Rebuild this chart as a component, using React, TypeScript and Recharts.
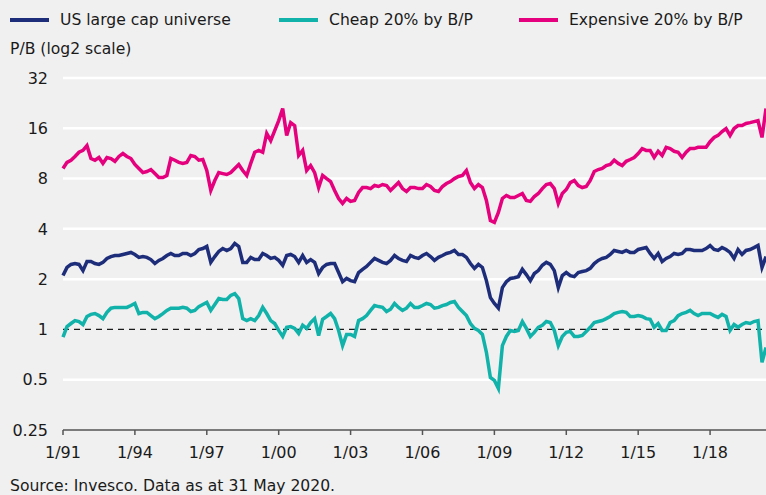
import React from 'react';
import { LineChart, Line, XAxis, YAxis, CartesianGrid, ReferenceLine } from 'recharts';

// P/B readings, every second month from 1/91 to 5/20
const universePB = [
  2.10, 2.35, 2.45, 2.48, 2.45, 2.25, 2.55, 2.55, 2.48, 2.45,
  2.52, 2.66, 2.73, 2.77, 2.77, 2.81, 2.85, 2.89, 2.81, 2.70,
  2.73, 2.70, 2.62, 2.48, 2.59, 2.66, 2.77, 2.85, 2.77, 2.77,
  2.85, 2.85, 2.77, 2.85, 3.01, 3.05, 3.14, 2.52, 2.73, 2.93,
  3.05, 2.97, 3.05, 3.27, 3.14, 2.52, 2.52, 2.70, 2.62, 2.62,
  2.85, 2.77, 2.66, 2.70, 2.59, 2.42, 2.77, 2.81, 2.73, 2.52,
  2.77, 2.52, 2.62, 2.52, 2.16, 2.35, 2.45, 2.48, 2.48, 2.19,
  1.93, 2.02, 1.96, 1.93, 2.19, 2.29, 2.38, 2.52, 2.66, 2.59,
  2.52, 2.48, 2.59, 2.77, 2.66, 2.59, 2.55, 2.77, 2.70, 2.66,
  2.77, 2.85, 2.73, 2.59, 2.70, 2.77, 2.85, 2.89, 2.97, 2.81,
  2.81, 2.70, 2.48, 2.32, 2.45, 2.35, 1.96, 1.55, 1.43, 1.34,
  1.78, 1.93, 2.02, 2.04, 2.07, 2.29, 2.13, 1.96, 2.16, 2.25,
  2.42, 2.52, 2.45, 2.25, 1.78, 2.10, 2.19, 2.10, 2.07, 2.19,
  2.22, 2.25, 2.32, 2.48, 2.59, 2.66, 2.70, 2.81, 2.97, 2.93,
  2.89, 2.97, 2.89, 2.89, 3.01, 3.05, 3.09, 2.85, 2.66, 2.85,
  2.55, 2.66, 2.73, 2.85, 2.81, 2.85, 3.01, 3.01, 2.97, 2.97,
  2.97, 3.05, 3.18, 3.01, 2.97, 3.09, 3.01, 2.89, 2.66, 3.01,
  2.81, 2.97, 3.01, 3.09, 3.18, 2.35, 2.73,
];

const cheapPB = [
  0.90, 1.04, 1.085, 1.13, 1.115, 1.07, 1.195, 1.23, 1.245, 1.21,
  1.16, 1.265, 1.34, 1.355, 1.355, 1.355, 1.355, 1.39, 1.43, 1.245,
  1.265, 1.265, 1.21, 1.16, 1.195, 1.245, 1.30, 1.34, 1.34, 1.34,
  1.355, 1.34, 1.28, 1.30, 1.37, 1.41, 1.45, 1.30, 1.41, 1.53,
  1.51, 1.51, 1.60, 1.64, 1.53, 1.16, 1.13, 1.16, 1.13, 1.21,
  1.355, 1.245, 1.13, 1.085, 0.986, 0.908, 1.03, 1.04, 1.014, 0.946,
  1.06, 1.014, 1.10, 1.16, 0.92, 1.15, 1.195, 1.245, 1.16, 0.986,
  0.80, 0.933, 0.933, 0.908, 1.13, 1.16, 1.21, 1.30, 1.39, 1.37,
  1.355, 1.28, 1.32, 1.43, 1.355, 1.30, 1.34, 1.43, 1.355, 1.355,
  1.39, 1.43, 1.41, 1.34, 1.355, 1.39, 1.41, 1.45, 1.47, 1.355,
  1.28, 1.21, 1.085, 1.014, 0.986, 0.933, 0.73, 0.516, 0.495, 0.443,
  0.80, 0.908, 0.986, 0.973, 0.986, 1.115, 1.014, 0.908, 0.96, 1.03,
  1.06, 1.115, 1.10, 0.986, 0.80, 0.908, 0.96, 0.973, 0.908, 0.908,
  0.92, 0.973, 1.03, 1.10, 1.115, 1.13, 1.16, 1.195, 1.245, 1.265,
  1.28, 1.265, 1.195, 1.195, 1.21, 1.195, 1.16, 1.15, 1.03, 1.085,
  0.986, 0.986, 1.10, 1.13, 1.21, 1.245, 1.265, 1.30, 1.245, 1.21,
  1.245, 1.245, 1.245, 1.21, 1.18, 1.23, 1.195, 0.986, 1.07, 1.03,
  1.07, 1.10, 1.085, 1.115, 1.13, 0.635, 0.78,
];

const expensivePB = [
  9.19, 10.0, 10.3, 10.85, 11.5, 11.8, 12.6, 10.55, 10.3, 10.7,
  9.86, 10.7, 10.55, 10.15, 10.85, 11.3, 10.85, 10.55, 9.72, 9.19,
  8.69, 8.82, 9.06, 8.57, 8.12, 8.12, 8.35, 10.55, 10.3, 10.0,
  9.86, 10.0, 11.0, 10.85, 10.3, 10.4, 8.94, 6.79, 7.79, 8.69,
  8.57, 8.46, 8.69, 9.19, 9.72, 8.94, 8.35, 9.86, 11.5, 11.8,
  11.5, 14.9, 13.5, 15.5, 17.8, 21.0, 14.5, 17.3, 16.6, 11.0,
  11.8, 8.94, 9.58, 8.69, 7.07, 8.35, 8.0, 7.68, 6.79, 6.08,
  5.68, 6.08, 5.84, 5.92, 6.60, 7.07, 7.07, 6.97, 7.27, 7.17,
  7.37, 7.27, 6.79, 7.17, 7.57, 6.97, 6.69, 7.07, 7.07, 6.97,
  6.97, 7.37, 7.17, 6.79, 6.69, 7.17, 7.47, 7.68, 8.0, 8.23,
  8.35, 8.94, 7.57, 6.97, 7.37, 7.07, 5.92, 4.49, 4.37, 5.02,
  6.08, 6.34, 6.16, 6.16, 6.34, 6.51, 5.92, 5.84, 6.25, 6.51,
  6.97, 7.37, 7.47, 6.97, 5.68, 6.51, 6.88, 7.57, 7.79, 7.27,
  7.07, 7.17, 7.79, 8.82, 9.06, 9.19, 9.58, 9.72, 10.3, 9.86,
  9.58, 10.15, 10.4, 10.7, 11.3, 12.1, 11.8, 11.8, 10.7, 11.65,
  11.0, 12.3, 12.1, 11.65, 11.5, 10.7, 11.5, 12.1, 12.1, 12.3,
  12.3, 12.3, 13.3, 14.1, 14.5, 15.3, 15.95, 14.5, 15.95, 16.6,
  16.6, 17.1, 17.3, 17.55, 17.8, 14.1, 21.0,
];

const yTicks = [0.25, 0.5, 1, 2, 4, 8, 16, 32];
const gridLevels = [0.5, 2, 4, 8, 16, 32];
const xTicks = [0, 36, 72, 108, 144, 180, 216, 252, 288, 324]; // months since 1/91

const NAVY = '#1e2d7a';
const TEAL = '#10b2aa';
const PINK = '#e5007d';
const FONT = '"DejaVu Sans", Verdana, sans-serif';

const data = universePB.map((v, i) => ({
  m: i * 2,
  universe: v,
  cheap: cheapPB[i],
  expensive: expensivePB[i],
}));

const monthLabel = (m: number) => `1/${String((1991 + Math.round(m / 12)) % 100).padStart(2, '0')}`;

const legendItems = [
  { label: 'US large cap universe', color: NAVY, x: 10 },
  { label: 'Cheap 20% by B/P', color: TEAL, x: 279 },
  { label: 'Expensive 20% by B/P', color: PINK, x: 519 },
];

export default function App() {
  return (
    <div style={{
      position: 'absolute', left: 0, top: 0, width: 766, height: 495,
      background: '#f0f0f0', fontFamily: FONT, color: '#1a1a1a', overflow: 'hidden'
    }}>
      {legendItems.map(item => (
        <div key={item.label} style={{ position: 'absolute', left: item.x, top: 11, display: 'flex', alignItems: 'center', fontSize: 15.6, whiteSpace: 'nowrap' }}>
          <span style={{ display: 'inline-block', width: 39, height: 4, background: item.color, marginRight: 11 }} />
          <span>{item.label}</span>
        </div>
      ))}
      <div style={{ position: 'absolute', left: 10, top: 40, fontSize: 15.6 }}>P/B (log2 scale)</div>

      <div style={{ position: 'absolute', left: 0, top: 0 }}>
        <LineChart width={766} height={495} data={data} margin={{ top: 78, right: 0, bottom: 35, left: 8 }}>
          <CartesianGrid vertical={false} stroke="#ffffff" strokeWidth={0} />
          {gridLevels.map(v => (
            <ReferenceLine key={v} y={v} stroke="#ffffff" strokeWidth={2.5} />
          ))}
          <XAxis
            dataKey="m"
            type="number"
            domain={[0, 352]}
            ticks={xTicks}
            interval={0}
            tickFormatter={monthLabel}
            stroke="#555"
            strokeWidth={1.5}
            tickSize={5}
            tickMargin={12}
            height={30}
            tick={{ fill: '#1a1a1a', fontSize: 16, fontFamily: FONT }}
          />
          <YAxis
            type="number"
            scale="log"
            domain={[0.25, 32]}
            ticks={yTicks}
            interval={0}
            allowDataOverflow
            width={55}
            axisLine={false}
            tickLine={false}
            tickSize={6}
            tickMargin={9}
            tick={{ fill: '#1a1a1a', fontSize: 16, fontFamily: FONT }}
          />
          <ReferenceLine y={1} stroke="#1a1a1a" strokeWidth={1.3} strokeDasharray="6 5" />
          <Line type="linear" dataKey="universe" stroke={NAVY} strokeWidth={3.5} dot={false} isAnimationActive={false} />
          <Line type="linear" dataKey="cheap" stroke={TEAL} strokeWidth={3.5} dot={false} isAnimationActive={false} />
          <Line type="linear" dataKey="expensive" stroke={PINK} strokeWidth={3.5} dot={false} isAnimationActive={false} />
        </LineChart>
      </div>

      <div style={{ position: 'absolute', left: 10, top: 477, fontSize: 15.6 }}>Source: Invesco. Data as at 31 May 2020.</div>
    </div>
  );
}
